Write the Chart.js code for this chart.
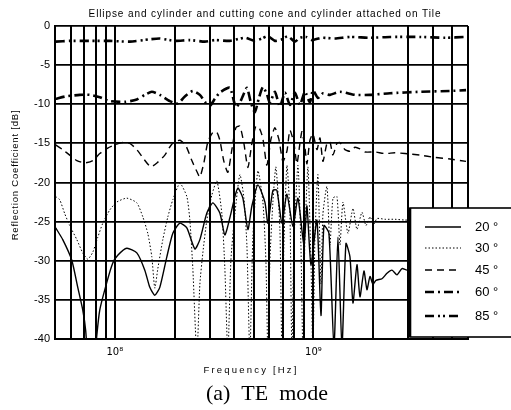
<!DOCTYPE html>
<html><head><meta charset="utf-8">
<script src="https://cdn.jsdelivr.net/npm/chart.js@4/dist/chart.umd.min.js"></script>
<style>html,body{margin:0;padding:0;background:#fff;}canvas{display:block;}</style>
</head><body>
<canvas id="c" width="511" height="410"></canvas>
<script>
// ---------- text ----------
const chartTitle = 'Ellipse and cylinder and cutting cone and cylinder attached on Tile';
const xTitle = 'Frequency [Hz]';
const yTitle = 'Reflection Coefficient [dB]';
const caption = '(a)  TE  mode';
const seriesNames = ['20 °', '30 °', '45 °', '60 °', '85 °'];

// ---------- ticks ----------
const yTickValues = [0, -5, -10, -15, -20, -25, -30, -35, -40];
const xMajorTicksHz = [1e8, 1e9];
const xMajorLabels = ['10⁸', '10⁹'];
const xGridMHz = [50, 60, 70, 80, 90, 100, 200, 300, 400, 500, 600, 700, 800, 900, 1000, 2000, 3000, 4000, 5000, 6000];

// ---------- data (frequency in MHz, reflection in dB) ----------
const f20 = [50.4,54.7,60.7,65.1,69.0,71.4,75.7,81.2,84.0,91.1,97.7,103.5,114.9,129.1,141.6,150.1,159.0,168.5,182.8,196.0,212.6,230.5,252.9,268.1,290.7,311.7,338.0,358.2,379.6,402.3,416.5,441.4,467.8,490.0,525.3,569.7,589.9,625.1,654.8,693.9,735.4,788.4,835.5,895.7,927.4,971.4,1041.5,1091.0,1129.6,1197.0,1268.5,1328.7,1391.8,1457.9,1527.1,1581.2,1656.3,1714.9,1796.4,1860.1,1926.0,1994.1,2064.7,2213.6,2345.7,2485.7,2634.1,2791.4,2958.1,3062.8,4000,5866];
const db20 = [-25.8,-27.3,-29.9,-33.4,-36.3,-39,-48,-39.5,-36.3,-32.8,-30.3,-29.3,-28.4,-29.0,-31.2,-33.4,-34.4,-33.4,-29.5,-26.5,-25.2,-25.8,-28.5,-27.3,-23.9,-22.6,-23.9,-26.7,-24.5,-21.8,-20.7,-22.0,-26.0,-23.0,-20.3,-22.5,-25.2,-21.0,-21.0,-25.2,-21.5,-25.6,-22.0,-28.0,-23.0,-30.5,-24.8,-37,-25.5,-26.5,-41,-27.0,-41,-27.8,-29.5,-35.4,-30.5,-34.6,-31.3,-33.7,-32.0,-33.0,-32.5,-32.3,-31.6,-31.2,-31.8,-31.0,-31.2,-31.0,-31.0,-31.0];

const f30 = [50.4,52.8,56.0,59.3,64.4,69.0,73.1,77.5,82.1,87.0,94.4,102.3,114.9,129.1,138.4,146.6,153.6,159.0,164.7,174.5,184.9,196.0,212.6,230.5,238.7,247.1,258.9,268.1,277.5,290.7,308.1,326.5,346.0,358.2,370.9,384.0,402.3,426.3,446.6,462.4,478.7,495.7,525.3,556.7,576.4,589.9,603.7,625.1,647.3,678.0,693.9,710.2,735.4,761.4,779.3,797.6,835.5,865.0,885.3,906.1,938.2,971.4,994.2,1017.6,1053.6,1091.0,1116.6,1169.6,1211.0,1253.9,1313.4,1359.9,1408.1,1492.1,1581.2,1656.3,1755.2,1838.6,1926.0,2017.4,2088.8,2291.9,2573.7,2890.2,3062.8,4000,5866];
const db30 = [-21.8,-22.2,-24.0,-25.5,-27.3,-29.0,-29.8,-28.9,-27.0,-25.2,-23.5,-22.5,-22.0,-22.6,-24.4,-26.5,-29.5,-33.5,-31.0,-27.3,-24.4,-22.2,-20.1,-21.8,-24.8,-31,-42,-33,-29,-24.8,-21.6,-19.8,-24,-31,-42,-30,-24,-19.0,-22,-28,-42,-27,-18.5,-22.5,-30,-42,-30,-22.5,-18.0,-26,-42,-28,-17.8,-24,-42,-28,-17.8,-28,-42,-27,-18.0,-30,-42,-27,-19.0,-33,-24,-20.5,-28,-22,-21.8,-28,-22.5,-26.5,-23.3,-26,-23.8,-25.5,-24.4,-25.3,-24.6,-24.7,-24.7,-24.8,-24.8,-24.8,-24.8];

const f45 = [50.4,54.7,59.3,64.4,70.6,77.5,84.0,92.2,100,108.5,119.0,129.1,140.0,151.8,164.7,178.6,193.7,212.6,227.9,244.3,258.9,268.1,280.8,294.1,311.7,326.5,338.0,354.1,370.9,388.5,407.0,426.3,446.6,467.8,490.0,513.3,537.6,556.7,583.1,610.8,639.8,670.2,702.0,735.4,761.4,797.6,825.8,855.1,875.1,906.1,927.4,960.2,994.2,1041.5,1078.4,1116.6,1169.6,1211.0,1253.9,1313.4,1359.9,1441.1,1527.1,1618.3,1714.9,1817.4,2040.9,2291.9,2573.7,2890.2,3439.6,4093.7,4871.7,5865.9];
const db45 = [-15.2,-15.8,-16.5,-17.2,-17.5,-17.2,-16.3,-15.6,-15.2,-14.9,-15.0,-15.8,-17.0,-18.0,-17.4,-16.5,-15.1,-14.6,-15.3,-17.2,-18.6,-19.3,-17.5,-14.8,-13.6,-13.6,-14.6,-17.3,-18.7,-15.8,-13.0,-12.8,-15.0,-18.1,-15.0,-12.8,-13.2,-14.4,-17.8,-14.5,-13.0,-14.5,-17.3,-16.0,-13.3,-15.0,-17.6,-15.0,-13.5,-15.5,-17.6,-14.6,-13.8,-15.8,-14.3,-17.3,-15.0,-14.8,-16.5,-15.0,-14.9,-15.8,-16.0,-15.5,-15.7,-16.1,-16.1,-16.3,-16.2,-16.3,-16.5,-16.8,-17.0,-17.3];

const f60 = [50.4,56.6,66.6,74.8,84.0,94.4,112.3,129.1,141.6,153.6,168.5,189.3,207.7,225.2,247.1,268.1,284.1,301.0,319.0,338.0,379.6,407.0,431.3,462.4,484.3,507.3,531.4,556.7,583.1,603.7,639.8,678.0,718.5,761.4,806.9,855.1,906.1,960.2,994.2,1053.6,1116.6,1211.0,1359.9,1618.3,1926.0,2428.7,3439.6,4871.7,5865.9];
const db60 = [-9.3,-9.0,-8.8,-8.8,-9.1,-9.6,-9.7,-9.4,-8.8,-8.4,-8.8,-9.6,-9.9,-9.0,-8.3,-8.8,-9.7,-10.2,-9.3,-8.5,-7.9,-10.4,-9.5,-7.9,-9.8,-11.0,-9.2,-7.8,-8.7,-9.8,-8.4,-10.3,-8.5,-10.1,-8.5,-10.1,-8.4,-9.8,-8.2,-9.2,-8.6,-8.8,-8.4,-8.8,-8.8,-8.6,-8.4,-8.3,-8.2];

const f85 = [50.4,59.3,74.8,94.4,119.0,150.1,168.5,200.6,238.7,284.1,319.0,379.6,451.8,507.3,550.2,589.9,639.8,693.9,743.9,806.9,855.1,916.7,982.7,1103.7,1283.3,1527.1,1926.0,2428.7,3439.6,4597.1,5865.9];
const db85 = [-2.0,-1.9,-1.9,-1.9,-2.0,-1.7,-1.6,-1.9,-1.8,-2.0,-1.8,-1.9,-1.5,-1.9,-1.6,-1.3,-1.9,-1.7,-1.3,-2.0,-1.5,-1.4,-1.8,-1.5,-1.6,-1.4,-1.5,-1.4,-1.4,-1.5,-1.4];

// ---------- build ----------
const seriesF = [f20, f30, f45, f60, f85];
const seriesDB = [db20, db30, db45, db60, db85];
const styles = [
  {w: 1.4, dash: []},
  {w: 1.0, dash: [1.5, 2]},
  {w: 1.4, dash: [7, 5]},
  {w: 2.6, dash: [9, 4, 2, 4]},
  {w: 2.6, dash: [9, 4, 2, 3, 2, 4]}
];
const datasets = seriesNames.map((name, i) => ({
  label: name,
  data: seriesF[i].map((f, k) => ({x: f * 1e6, y: seriesDB[i][k]})),
  borderColor: '#000',
  borderWidth: styles[i].w,
  borderDash: styles[i].dash,
  pointRadius: 0,
  tension: 0.2,
  fill: false
}));

const SANS = '"Liberation Sans", Arial, sans-serif';

const decor = {
  id: 'decor',
  afterDatasetsDraw(chart) {
    const ctx = chart.ctx;
    const bx = 410, by = 208, bw = 110, bh = 129;
    ctx.save();
    ctx.setLineDash([]);
    ctx.fillStyle = '#fff';
    ctx.fillRect(bx, by, bw, bh);
    ctx.strokeStyle = '#000';
    ctx.lineWidth = 1.6;
    ctx.strokeRect(bx, by, bw, bh);
    ctx.lineWidth = 2.6;
    ctx.beginPath(); ctx.moveTo(bx, by); ctx.lineTo(bx, by + bh); ctx.stroke();
    const rowY = [227, 248, 270, 292, 316];
    chart.data.datasets.forEach((ds, i) => {
      const y = rowY[i];
      ctx.beginPath();
      ctx.setLineDash(ds.borderDash || []);
      ctx.lineWidth = ds.borderWidth;
      ctx.strokeStyle = '#000';
      ctx.moveTo(425, y);
      ctx.lineTo(461, y);
      ctx.stroke();
      ctx.setLineDash([]);
      ctx.fillStyle = '#000';
      ctx.font = '13px ' + SANS;
      ctx.textAlign = 'left';
      ctx.textBaseline = 'middle';
      ctx.fillText(ds.label, 475, y);
    });
    ctx.restore();
  },
  afterDraw(chart) {
    const ctx = chart.ctx;
    ctx.save();
    ctx.fillStyle = '#000';
    ctx.textAlign = 'center';
    ctx.textBaseline = 'middle';
    ctx.font = '10px ' + SANS;
    ctx.letterSpacing = '0.9px';
    ctx.fillText(chartTitle, 265, 14);
    ctx.letterSpacing = '2.2px';
    ctx.font = '9.5px ' + SANS;
    ctx.fillText(xTitle, 251, 370);
    ctx.letterSpacing = '0.8px';
    ctx.font = '9.5px ' + SANS;
    ctx.save();
    ctx.translate(15, 175);
    ctx.rotate(-Math.PI / 2);
    ctx.fillText(yTitle, 0, 0);
    ctx.restore();
    ctx.letterSpacing = '0px';
    ctx.font = '22px "Liberation Serif", "Times New Roman", serif';
    ctx.fillText(caption, 267, 394);
    ctx.restore();
  }
};

new Chart(document.getElementById('c'), {
  type: 'line',
  data: {datasets},
  plugins: [decor],
  options: {
    responsive: false,
    animation: false,
    devicePixelRatio: 1,
    layout: {padding: {left: 0, right: 43, top: 26, bottom: 0}},
    plugins: {legend: {display: false}, title: {display: false}, tooltip: {enabled: false}},
    scales: {
      x: {
        type: 'logarithmic',
        min: xGridMHz[0] * 1e6,
        max: xGridMHz[xGridMHz.length - 1] * 1e6,
        afterBuildTicks: (s) => { s.ticks = xGridMHz.map(v => ({value: v * 1e6})); },
        afterFit: (s) => { s.height = 71; },
        grid: {color: '#000', lineWidth: 2, drawTicks: false},
        border: {color: '#000', width: 2},
        ticks: {
          autoSkip: false, maxRotation: 0, padding: 7, color: '#000',
          font: {family: '"DejaVu Sans", ' + SANS, size: 10},
          callback: (v) => {
            const k = xMajorTicksHz.findIndex(t => Math.abs(t - v) < 1);
            return k >= 0 ? xMajorLabels[k] : '';
          }
        }
      },
      y: {
        min: -40, max: 0,
        afterBuildTicks: (s) => { s.ticks = yTickValues.map(v => ({value: v})); },
        afterFit: (s) => { s.width = 55; },
        grid: {color: '#000', lineWidth: 1.8, drawTicks: false},
        border: {color: '#000', width: 2},
        ticks: {padding: 5, color: '#000', font: {family: SANS, size: 11}, callback: (v) => String(v)}
      }
    }
  }
});
</script>
</body></html>
